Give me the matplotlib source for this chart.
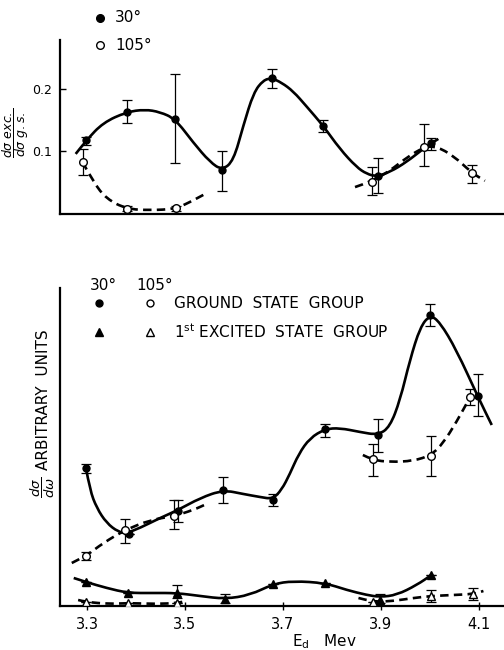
import matplotlib
matplotlib.use("Agg")
import matplotlib.pyplot as plt
from matplotlib.path import Path
from matplotlib.patches import PathPatch

plt.rcParams['font.family'] = ['DejaVu Sans']
plt.rcParams['mathtext.fontset'] = 'dejavusans'

# ---------------- Top panel data (ratio d sigma exc / d sigma g.s.) -------------
top30_x = [3.299, 3.381, 3.480, 3.576, 3.677, 3.782, 3.893, 4.003]
top30_y = [0.118, 0.163, 0.152, 0.070, 0.217, 0.141, 0.060, 0.113]
top30_lo = [0.110, 0.146, 0.082, 0.036, 0.201, 0.131, 0.034, 0.103]
top30_hi = [0.123, 0.182, 0.223, 0.101, 0.231, 0.150, 0.089, 0.122]

top105_x = [3.291, 3.381, 3.481, 3.881, 3.988, 4.085]
top105_y = [0.083, 0.008, 0.009, 0.051, 0.107, 0.066]
top105_lo = [0.063, 0.005, 0.005, 0.030, 0.077, 0.050]
top105_hi = [0.104, 0.012, 0.013, 0.075, 0.144, 0.079]

# drawn guide curves
top30_curve_x = [3.277, 3.299, 3.333, 3.381, 3.418, 3.449, 3.480, 3.517, 3.551, 3.576,
                 3.599, 3.619, 3.640, 3.660, 3.677, 3.697, 3.721, 3.748, 3.782, 3.816,
                 3.850, 3.871, 3.891, 3.918, 3.952, 3.986, 4.003, 4.017]
top30_curve_y = [0.096, 0.118, 0.146, 0.163, 0.167, 0.163, 0.152, 0.114, 0.083, 0.070,
                 0.085, 0.141, 0.194, 0.214, 0.217, 0.210, 0.196, 0.172, 0.141, 0.104,
                 0.075, 0.064, 0.060, 0.067, 0.083, 0.104, 0.113, 0.120]
top105_curve1_x = [3.291, 3.313, 3.340, 3.381, 3.429, 3.480, 3.510, 3.541]
top105_curve1_y = [0.083, 0.051, 0.024, 0.008, 0.006, 0.008, 0.019, 0.032]
top105_curve2_x = [3.847, 3.881, 3.918, 3.952, 3.988, 4.013, 4.048, 4.085, 4.112]
top105_curve2_y = [0.043, 0.052, 0.069, 0.090, 0.107, 0.108, 0.093, 0.066, 0.053]

# ---------------- Bottom panel data (d sigma / d omega, arbitrary units) -------
gs30_x = [3.298, 3.385, 3.486, 3.578, 3.679, 3.786, 3.894, 4.001, 4.097]
gs30_y = [13.8, 7.2, 9.5, 11.6, 10.6, 17.7, 17.1, 29.1, 21.0]
gs30_lo = [13.3, 7.2, 8.4, 10.3, 10.0, 16.9, 15.4, 28.0, 19.0]
gs30_hi = [14.2, 7.2, 10.6, 12.9, 11.2, 18.2, 18.7, 30.2, 23.2]

gs105_x = [3.298, 3.378, 3.478, 3.883, 4.003, 4.082]
gs105_y = [5.0, 7.6, 9.0, 14.7, 15.0, 20.9]
gs105_lo = [4.6, 6.3, 7.7, 13.0, 13.0, 20.1]
gs105_hi = [5.4, 8.7, 10.6, 16.2, 17.0, 21.7]

ex30_x = [3.298, 3.384, 3.483, 3.582, 3.680, 3.786, 3.898, 4.003]
ex30_y = [2.4, 1.3, 1.3, 0.7, 2.2, 2.3, 0.6, 3.1]
ex30_lo = [2.4, 1.3, 0.8, 0.3, 2.2, 2.3, 0.3, 3.1]
ex30_hi = [2.4, 1.3, 2.1, 1.2, 2.2, 2.3, 1.2, 3.1]

ex105_x = [3.298, 3.384, 3.483, 3.884, 4.003, 4.088]
ex105_y = [0.4, 0.3, 0.3, 0.4, 1.0, 1.2]
ex105_lo = [0.4, 0.3, 0.3, 0.4, 0.4, 0.6]
ex105_hi = [0.4, 0.3, 0.3, 0.4, 1.6, 1.8]

gs30_curve_x = [3.298, 3.306, 3.320, 3.340, 3.364, 3.381, 3.408, 3.449, 3.486, 3.531,
                3.578, 3.619, 3.653, 3.679, 3.697, 3.714, 3.732, 3.755, 3.786, 3.816,
                3.857, 3.894, 3.918, 3.939, 3.959, 3.980, 4.000, 4.020, 4.054, 4.098, 4.126]
gs30_curve_y = [13.8, 11.6, 9.8, 8.3, 7.4, 7.3, 7.8, 8.8, 9.6, 10.8,
                11.6, 11.2, 10.9, 10.7, 11.6, 13.2, 15.2, 16.8, 17.7, 17.8,
                17.4, 17.1, 17.9, 20.6, 24.6, 27.9, 29.1, 28.4, 25.6, 20.9, 18.1]
gs105_curve1_x = [3.269, 3.298, 3.333, 3.378, 3.429, 3.478, 3.517, 3.544]
gs105_curve1_y = [4.3, 5.0, 6.3, 7.6, 8.6, 9.0, 9.6, 10.2]
gs105_curve2_x = [3.863, 3.883, 3.918, 3.966, 4.003, 4.027, 4.054, 4.082]
gs105_curve2_y = [15.1, 14.6, 14.4, 14.5, 15.1, 16.3, 18.4, 20.9]

ex30_curve_x = [3.273, 3.298, 3.340, 3.384, 3.435, 3.483, 3.531, 3.582, 3.633, 3.680,
                3.721, 3.786, 3.830, 3.871, 3.898, 3.932, 3.973, 4.003]
ex30_curve_y = [2.8, 2.4, 1.8, 1.3, 1.3, 1.3, 1.0, 0.7, 1.1, 2.2,
                2.5, 2.3, 1.6, 1.1, 0.9, 1.1, 2.1, 3.1]
ex105_curve1_x = [3.282, 3.298, 3.347, 3.384, 3.442, 3.483, 3.503]
ex105_curve1_y = [0.6, 0.4, 0.2, 0.3, 0.2, 0.3, 0.5]
ex105_curve2_x = [3.854, 3.884, 3.925, 3.966, 4.003, 4.048, 4.088, 4.109]
ex105_curve2_y = [0.8, 0.4, 0.5, 0.8, 1.0, 1.1, 1.2, 1.5]

x_ticks = [3.3, 3.5, 3.7, 3.9, 4.1]
x_tick_labels = ['3.3', '3.5', '3.7', '3.9', '4.1']
top_y_ticks = [0.1, 0.2]
top_y_tick_labels = ['0.1', '0.2']

W, H = 504, 650
fig = plt.figure(figsize=(W / 100, H / 100), dpi=100)

XLIM = (3.245, 4.151)
ax1 = fig.add_axes([60 / W, 1 - 214 / H, 1 - 60 / W, (214 - 40) / H])
ax2 = fig.add_axes([60 / W, 1 - 606 / H, 1 - 60 / W, (606 - 288) / H])


def smooth(ax, xs, ys, ls='-', lw=1.9):
    verts = [(xs[0], ys[0])]
    codes = [Path.MOVETO]
    n = len(xs)
    for i in range(1, n - 1):
        verts.append((xs[i], ys[i]))
        verts.append(((xs[i] + xs[i + 1]) / 2, (ys[i] + ys[i + 1]) / 2))
        codes += [Path.CURVE3, Path.CURVE3]
    verts.append((xs[-1], ys[-1]))
    codes.append(Path.LINETO)
    p = PathPatch(Path(verts, codes), fill=False, lw=lw, ls=ls, color='black',
                  capstyle='butt', joinstyle='round', zorder=2)
    ax.add_patch(p)


def errpts(ax, xs, ys, lo, hi, marker, filled, ms=5.5):
    yerr = [[y - l for y, l in zip(ys, lo)], [h - y for y, h in zip(ys, hi)]]
    ax.errorbar(xs, ys, yerr=yerr, fmt='none', ecolor='black', elinewidth=0.9,
                capsize=3.5, capthick=0.9, zorder=3)
    ax.plot(xs, ys, ls='none', marker=marker, ms=ms,
            mfc='black' if filled else 'white', mec='black', mew=1.0, zorder=4)


DASH = (0, (3.2, 2.0))

# ---- top panel
smooth(ax1, top30_curve_x, top30_curve_y)
smooth(ax1, top105_curve1_x, top105_curve1_y, ls=DASH)
smooth(ax1, top105_curve2_x, top105_curve2_y, ls=DASH)
errpts(ax1, top30_x, top30_y, top30_lo, top30_hi, 'o', True, ms=5)
errpts(ax1, top105_x, top105_y, top105_lo, top105_hi, 'o', False, ms=5.5)
ax1.set_xlim(*XLIM)
ax1.set_ylim(0, 0.278)
ax1.set_yticks(top_y_ticks)
ax1.set_yticklabels(top_y_tick_labels)
ax1.set_xticks([])

# ---- bottom panel
smooth(ax2, gs30_curve_x, gs30_curve_y)
smooth(ax2, gs105_curve1_x, gs105_curve1_y, ls=DASH)
smooth(ax2, gs105_curve2_x, gs105_curve2_y, ls=DASH)
smooth(ax2, ex30_curve_x, ex30_curve_y)
smooth(ax2, ex105_curve1_x, ex105_curve1_y, ls=DASH)
smooth(ax2, ex105_curve2_x, ex105_curve2_y, ls=DASH)
errpts(ax2, gs30_x, gs30_y, gs30_lo, gs30_hi, 'o', True, ms=5)
errpts(ax2, gs105_x, gs105_y, gs105_lo, gs105_hi, 'o', False, ms=5.5)
errpts(ax2, ex30_x, ex30_y, ex30_lo, ex30_hi, '^', True, ms=5.5)
errpts(ax2, ex105_x, ex105_y, ex105_lo, ex105_hi, '^', False, ms=5.5)
ax2.set_xlim(*XLIM)
ax2.set_ylim(0, 31.8)
ax2.set_yticks([])
ax2.set_xticks(x_ticks)
ax2.set_xticklabels(x_tick_labels)

for ax in (ax1, ax2):
    ax.patch.set_visible(False)
    for s in ('top', 'right'):
        ax.spines[s].set_visible(False)
    for s in ('left', 'bottom'):
        ax.spines[s].set_linewidth(1.6)
    ax.tick_params(labelsize=10.5, width=1.0)
ax1.tick_params(axis='y', direction='in', length=4, pad=6, labelsize=9)
ax2.tick_params(axis='x', direction='inout', length=6, pad=5)

# ---- overlay for legends and labels (pixel coordinates)
ov = fig.add_axes([0, 0, 1, 1])
ov.set_xlim(0, W)
ov.set_ylim(H, 0)
ov.axis('off')

ov.plot([100], [18], marker='o', ms=5.5, mfc='black', mec='black', ls='none')
ov.plot([100], [45], marker='o', ms=5.5, mfc='white', mec='black', mew=1.0, ls='none')
ov.text(115, 18, '30°', fontsize=11, va='center', ha='left')
ov.text(115, 45, '105°', fontsize=11, va='center', ha='left')

ov.text(103, 286, '30°', fontsize=11, va='center', ha='center')
ov.text(155, 286, '105°', fontsize=11, va='center', ha='center')
ov.plot([99], [303], marker='o', ms=5, mfc='black', mec='black', ls='none')
ov.plot([150], [303], marker='o', ms=5, mfc='white', mec='black', mew=1.0, ls='none')
ov.plot([99], [332], marker='^', ms=5.5, mfc='black', mec='black', ls='none')
ov.plot([150], [332], marker='^', ms=5.5, mfc='white', mec='black', mew=1.0, ls='none')
ov.text(174, 303, 'GROUND  STATE  GROUP', fontsize=11, va='center', ha='left')
ov.text(174, 332, r'1$^{\mathregular{st}}$ EXCITED  STATE  GROUP', fontsize=11,
        va='center', ha='left')

ov.text(16, 133, r'$\dfrac{d\sigma\ exc.}{d\sigma\ g.s.}$', fontsize=9, rotation=90,
        va='center', ha='center')
ov.text(43, 487, r'$\dfrac{d\sigma}{d\omega}$', fontsize=9.5,
        rotation=90, va='center', ha='center')
ov.text(44, 400, 'ARBITRARY  UNITS', fontsize=11,
        rotation=90, va='center', ha='center')
ov.text(324, 642, r'E$_{\mathregular{d}}$   Mev', fontsize=11, va='center', ha='center')

fig.savefig('out.png', dpi=100)
